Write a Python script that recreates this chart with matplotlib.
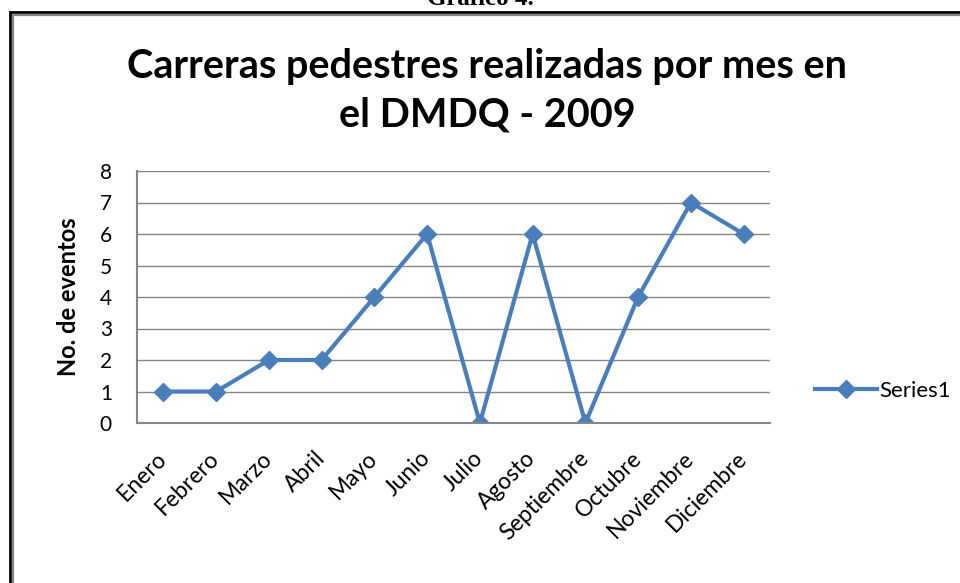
import matplotlib.pyplot as plt
from matplotlib.patches import Rectangle

# --- data ---
meses = ["Enero", "Febrero", "Marzo", "Abril", "Mayo", "Junio", "Julio",
         "Agosto", "Septiembre", "Octubre", "Noviembre", "Diciembre"]
eventos = [1, 1, 2, 2, 4, 6, 0, 6, 0, 4, 7, 6]
y_ticks = [0, 1, 2, 3, 4, 5, 6, 7, 8]

BLUE = "#4A7EBB"
GRAY = "#868686"

plt.rcParams["font.family"] = ["Lato", "DejaVu Sans"]

fig = plt.figure(figsize=(9.6, 5.83), dpi=100)
W, H = 960, 583
ax = fig.add_axes([137 / W, 1 - 423 / H, (770 - 137) / W, (423 - 171) / H])

x = list(range(len(meses)))
ax.plot(x, eventos, "-D", color=BLUE, linewidth=3, markersize=9.5, label="Series1")

ax.set_xlim(-0.5, len(meses) - 0.5)
ax.set_ylim(0, 8)
ax.set_yticks(y_ticks)
ax.set_xticks(x)
ax.set_xticklabels(meses, rotation=45, ha="right", va="center",
                   rotation_mode="anchor", fontsize=16.5)
ax.tick_params(axis="y", labelsize=15, length=0, pad=18)
ax.tick_params(axis="x", length=0, pad=23)
ax.yaxis.grid(True, color=GRAY, linewidth=1)
ax.set_axisbelow(True)
for s in ["top", "right"]:
    ax.spines[s].set_visible(False)
for s in ["left", "bottom"]:
    ax.spines[s].set_color(GRAY)
    ax.spines[s].set_linewidth(1.5)

ax.set_ylabel("No. de eventos", fontsize=17, fontweight="bold", labelpad=14)

ax.legend(loc="center left", bbox_to_anchor=(806 / W, 1 - 391 / H),
          bbox_transform=fig.transFigure, frameon=False, fontsize=16,
          handlelength=2.8, handletextpad=0.1, borderaxespad=0)

fig.text(487 / W, 1 - 91 / H, "Carreras pedestres realizadas por mes en\nel DMDQ - 2009",
         ha="center", va="center", fontsize=28.5, fontweight="bold", linespacing=1.4)

fig.text(0.5, 1 - 5 / H, "Gráfico 4.", ha="center", va="baseline",
         fontsize=18, fontweight="bold", family="Liberation Serif")

# outer frame: black line with gray inner line
fig.patches.append(Rectangle((10 / W, -0.05), 1.0, 1.05 - 12 / H,
                             transform=fig.transFigure, fill=False,
                             edgecolor="black", linewidth=2))
fig.patches.append(Rectangle((13 / W, -0.05), 1.0, 1.05 - 14.5 / H,
                             transform=fig.transFigure, fill=False,
                             edgecolor=GRAY, linewidth=1.6))

fig.savefig("out.png", dpi=100)
